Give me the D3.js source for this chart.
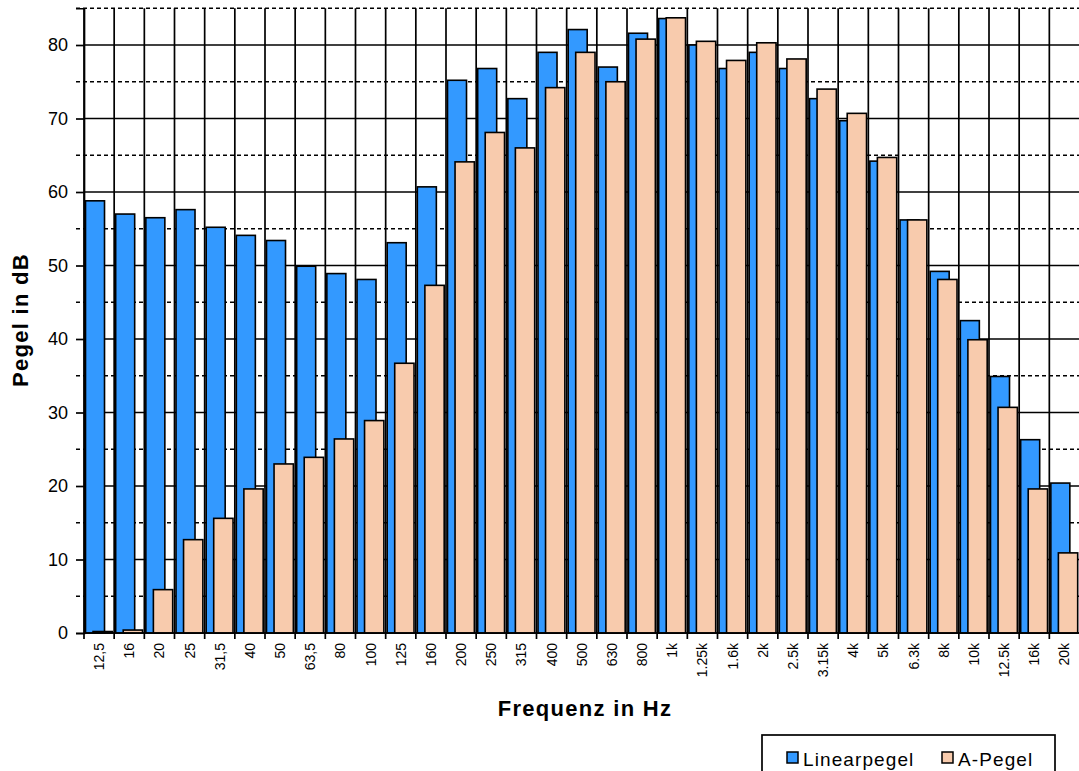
<!DOCTYPE html>
<html>
<head>
<meta charset="utf-8">
<script src="https://cdn.jsdelivr.net/npm/d3@7"></script>
<style>
  body { margin: 0; background: #fff; }
  svg { display: block; font-family: Arial, "Liberation Sans", sans-serif; }
</style>
</head>
<body>
<div id="chart"></div>
<script>
// Frequenzbaender (Terz)
var categories = ["12,5", "16", "20", "25", "31,5", "40", "50", "63,5", "80", "100",
  "125", "160", "200", "250", "315", "400", "500", "630", "800", "1k",
  "1.25k", "1.6k", "2k", "2.5k", "3.15k", "4k", "5k", "6.3k", "8k", "10k",
  "12.5k", "16k", "20k"];

var linearpegel = [58.8, 57.0, 56.5, 57.6, 55.2, 54.1, 53.4, 49.9, 48.9, 48.1,
  53.1, 60.7, 75.2, 76.8, 72.7, 79.0, 82.1, 77.0, 81.6, 83.6,
  80.0, 76.8, 79.0, 76.8, 72.7, 69.7, 64.2, 56.2, 49.2, 42.5,
  34.9, 26.3, 20.4];

var aPegel = [0.2, 0.4, 5.9, 12.7, 15.6, 19.6, 23.0, 23.9, 26.4, 28.9,
  36.7, 47.3, 64.1, 68.1, 66.0, 74.2, 79.0, 75.0, 80.8, 83.7,
  80.5, 77.9, 80.3, 78.1, 74.0, 70.7, 64.7, 56.2, 48.1, 39.9,
  30.7, 19.6, 10.9];

var seriesNames = ["Linearpegel", "A-Pegel"];
var yMajorTicks = [0, 10, 20, 30, 40, 50, 60, 70, 80];
var yMinorTicks = [5, 15, 25, 35, 45, 55, 65, 75, 85];

var svgWidth = 1079, svgHeight = 771;
var margin = { top: 8.25, right: -0.5, bottom: 138, left: 84 };
var chartWidth = svgWidth - margin.left - margin.right;
var chartHeight = svgHeight - margin.top - margin.bottom;

var colors = { blue: "#3399ff", orange: "#f8cbad" };

var svg = d3.select("#chart").append("svg")
  .attr("width", svgWidth)
  .attr("height", svgHeight);

var chartGroup = svg.append("g")
  .attr("transform", `translate(${margin.left}, ${margin.top})`);

var x = d3.scaleBand()
  .domain(categories)
  .range([0, chartWidth])
  .padding(0);

var y = d3.scaleLinear()
  .domain([0, 85])
  .range([chartHeight, 0]);

var bw = x.bandwidth();

// horizontal gridlines: solid at 10s, dashed at 5s
chartGroup.selectAll(".minor-grid")
  .data(yMinorTicks)
  .enter().append("line")
  .attr("x1", -8).attr("x2", chartWidth)
  .attr("y1", d => y(d)).attr("y2", d => y(d))
  .attr("stroke", "#000").attr("stroke-width", 1.5)
  .attr("stroke-dasharray", "4,3");

chartGroup.selectAll(".major-grid")
  .data(yMajorTicks)
  .enter().append("line")
  .attr("x1", 0).attr("x2", chartWidth)
  .attr("y1", d => y(d)).attr("y2", d => y(d))
  .attr("stroke", "#000").attr("stroke-width", 1.7);

// vertical gridlines at category boundaries
chartGroup.selectAll(".v-grid")
  .data(categories)
  .enter().append("line")
  .attr("x1", d => x(d)).attr("x2", d => x(d))
  .attr("y1", 0).attr("y2", chartHeight)
  .attr("stroke", "#000").attr("stroke-width", 1.7);

// bars
chartGroup.selectAll(".bar-lin")
  .data(linearpegel)
  .enter().append("rect")
  .attr("x", (d, i) => x(categories[i]) + bw * 0.05)
  .attr("width", bw * 0.63)
  .attr("y", d => y(d))
  .attr("height", d => y(0) - y(d))
  .attr("fill", colors.blue)
  .attr("stroke", "#000").attr("stroke-width", 1.6);

chartGroup.selectAll(".bar-a")
  .data(aPegel)
  .enter().append("rect")
  .attr("x", (d, i) => x(categories[i]) + bw * 0.30)
  .attr("width", bw * 0.64)
  .attr("y", d => y(d))
  .attr("height", d => y(0) - y(d))
  .attr("fill", colors.orange)
  .attr("stroke", "#000").attr("stroke-width", 1.6);

// y axis
var yAxis = d3.axisLeft(y).tickValues(yMajorTicks).tickSize(8).tickPadding(8);
var yG = chartGroup.append("g").call(yAxis);
yG.select(".domain").attr("stroke-width", 1.7);
yG.selectAll(".tick line").attr("stroke-width", 1.7);
yG.selectAll("text").attr("font-size", 18).attr("fill", "#000")
  .attr("font-family", "Arial, 'Liberation Sans', sans-serif");

// x axis with ticks at boundaries
var xG = chartGroup.append("g")
  .attr("transform", `translate(0, ${chartHeight})`);
xG.append("line")
  .attr("x1", 0).attr("x2", chartWidth)
  .attr("stroke", "#000").attr("stroke-width", 1.7);
xG.selectAll(".xtick")
  .data(categories)
  .enter().append("line")
  .attr("x1", d => x(d)).attr("x2", d => x(d))
  .attr("y1", 0).attr("y2", 6)
  .attr("stroke", "#000").attr("stroke-width", 1.7);
xG.selectAll(".xlabel")
  .data(categories)
  .enter().append("text")
  .attr("transform", d => `translate(${x(d) + bw / 2 + 5}, 10) rotate(-90)`)
  .attr("text-anchor", "end")
  .attr("font-size", 14)
  .text(d => d);

// axis titles
svg.append("text")
  .attr("transform", "translate(28, 320) rotate(-90)")
  .attr("text-anchor", "middle")
  .attr("font-size", 22)
  .attr("font-weight", "bold")
  .attr("letter-spacing", 1.3)
  .text("Pegel in dB");

svg.append("text")
  .attr("x", 585).attr("y", 716)
  .attr("text-anchor", "middle")
  .attr("font-size", 22)
  .attr("font-weight", "bold")
  .attr("letter-spacing", 1.3)
  .text("Frequenz in Hz");

// legend
var legend = svg.append("g");
legend.append("rect")
  .attr("x", 762).attr("y", 735)
  .attr("width", 293).attr("height", 45)
  .attr("fill", "#fff")
  .attr("stroke", "#000").attr("stroke-width", 1.7);

var legendX = [787, 942];
var legendFill = [colors.blue, colors.orange];
seriesNames.forEach(function(name, i) {
  legend.append("rect")
    .attr("x", legendX[i]).attr("y", 752)
    .attr("width", 11).attr("height", 11)
    .attr("fill", legendFill[i])
    .attr("stroke", "#000").attr("stroke-width", 1.5);
  legend.append("text")
    .attr("x", legendX[i] + 16).attr("y", 766)
    .attr("font-size", 19)
    .attr("letter-spacing", 1.1)
    .text(name);
});
</script>
</body>
</html>
